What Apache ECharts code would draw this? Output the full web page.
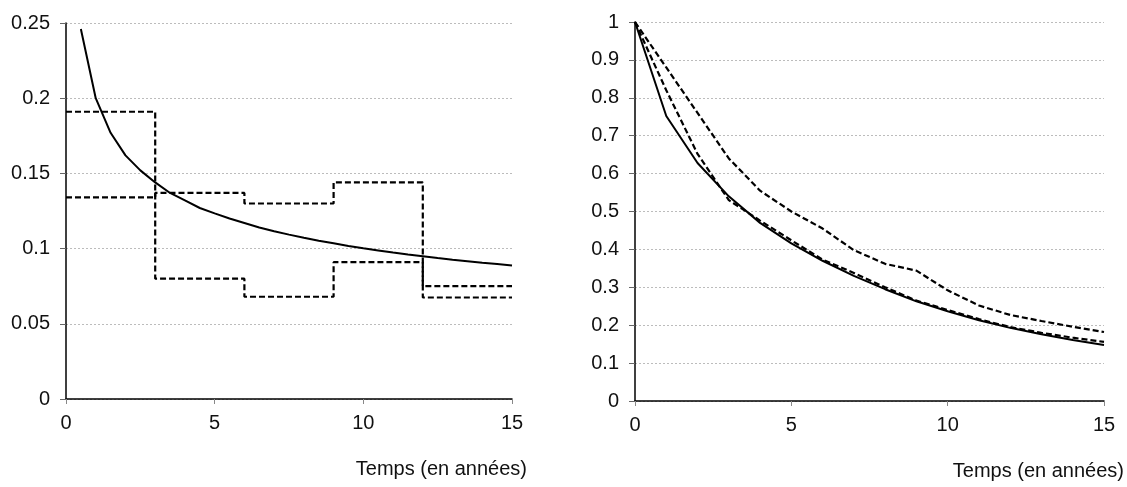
<!DOCTYPE html>
<html>
<head>
<meta charset="utf-8">
<script src="https://cdn.jsdelivr.net/npm/echarts@6/dist/echarts.min.js"></script>
<style>
  html, body { margin: 0; padding: 0; background: #fff; }
  #chart { width: 1127px; height: 487px; }
</style>
</head>
<body>
<div id="chart"></div>
<script>
// Left panel: decreasing curve and two piecewise-constant series
const leftTimes = [0.5, 1, 1.5, 2, 2.5, 3, 3.5, 4, 4.5, 5, 5.5, 6, 6.5, 7, 7.5, 8,
                   8.5, 9, 9.5, 10, 10.5, 11, 11.5, 12, 12.5, 13, 13.5, 14, 14.5, 15];
const leftCurve = [0.246, 0.200, 0.177, 0.162, 0.152, 0.144, 0.137, 0.132, 0.127, 0.1234,
                   0.120, 0.117, 0.114, 0.1116, 0.1093, 0.1072, 0.1052, 0.1035, 0.1018, 0.1002,
                   0.0988, 0.0974, 0.0961, 0.0949, 0.0937, 0.0926, 0.0916, 0.0906, 0.0897, 0.0888];
const stepTimes = [0, 3, 6, 9, 12, 15];
const stepUpper = [0.191, 0.080, 0.068, 0.091, 0.075, 0.075];
const stepLower = [0.134, 0.137, 0.130, 0.144, 0.0675, 0.0675];

// Right panel: three decreasing curves on yearly points
const rightTimes = [0, 1, 2, 3, 4, 5, 6, 7, 8, 9, 10, 11, 12, 13, 14, 15];
const rightSolid = [1, 0.752, 0.628, 0.540, 0.470, 0.416, 0.370, 0.330, 0.295, 0.263,
                    0.237, 0.213, 0.193, 0.176, 0.161, 0.148];
const rightDashLow = [1, 0.820, 0.652, 0.530, 0.476, 0.424, 0.373, 0.338, 0.300, 0.265,
                      0.240, 0.216, 0.195, 0.180, 0.167, 0.156];
const rightDashHigh = [1, 0.880, 0.760, 0.640, 0.555, 0.500, 0.455, 0.398, 0.362, 0.344,
                       0.292, 0.252, 0.227, 0.211, 0.196, 0.182];

// Axis ranges and tick steps
const xRange = { min: 0, max: 15, interval: 5 };
const leftYRange = { min: 0, max: 0.25, interval: 0.05 };
const rightYRange = { min: 0, max: 1, interval: 0.1 };
const axisTitle = 'Temps (en années)';

const pair = (xs, ys) => xs.map((x, i) => [x, ys[i]]);

const FONT = 'Liberation Sans';
const labelStyle = { fontFamily: FONT, fontSize: 20, color: '#111' };

function xAxisFor(gridIndex, gap) {
  return {
    type: 'value', gridIndex,
    min: xRange.min, max: xRange.max, interval: xRange.interval,
    axisLine: { onZero: false, lineStyle: { color: '#000', width: 1.5 } },
    axisTick: { show: true, length: 5, lineStyle: { color: '#888', width: 1 } },
    axisLabel: Object.assign({ margin: 14 }, labelStyle),
    splitLine: { show: false },
    name: axisTitle,
    nameLocation: 'end',
    nameGap: gap,
    nameTextStyle: {
      fontFamily: FONT, fontSize: 20, color: '#111',
      align: 'right', verticalAlign: 'top', padding: [60, 0, 0, 0]
    }
  };
}

function yAxisFor(gridIndex, range) {
  return {
    type: 'value', gridIndex,
    min: range.min, max: range.max, interval: range.interval,
    axisLine: { show: true, lineStyle: { color: '#000', width: 1.5 } },
    axisTick: { show: true, length: 6, lineStyle: { color: '#666', width: 1 } },
    axisLabel: Object.assign({ margin: 16 }, labelStyle),
    splitLine: { show: true, lineStyle: { color: '#bcbcbc', width: 1, type: [2, 2] } }
  };
}

const solid = { color: '#000', width: 2, type: 'solid' };
const dashed = { color: '#000', width: 2.2, type: [6, 3] };

function line(xi, yi, data, style, step) {
  return {
    type: 'line', xAxisIndex: xi, yAxisIndex: yi,
    data, step: step || false,
    showSymbol: false, symbol: 'none',
    lineStyle: style, silent: true, animation: false
  };
}

const chart = echarts.init(document.getElementById('chart'), null, { renderer: 'canvas' });
chart.setOption({
  backgroundColor: '#fff',
  animation: false,
  grid: [
    { left: 66, top: 23, width: 446, height: 376, containLabel: false },
    { left: 635, top: 22, width: 469, height: 379, containLabel: false }
  ],
  xAxis: [xAxisFor(0, 15), xAxisFor(1, 20)],
  yAxis: [yAxisFor(0, leftYRange), yAxisFor(1, rightYRange)],
  series: [
    line(0, 0, pair(stepTimes, stepUpper), dashed, 'end'),
    line(0, 0, pair(stepTimes, stepLower), dashed, 'end'),
    line(0, 0, pair(leftTimes, leftCurve), solid),
    line(1, 1, pair(rightTimes, rightDashHigh), dashed),
    line(1, 1, pair(rightTimes, rightDashLow), dashed),
    line(1, 1, pair(rightTimes, rightSolid), solid)
  ]
});
</script>
</body>
</html>
